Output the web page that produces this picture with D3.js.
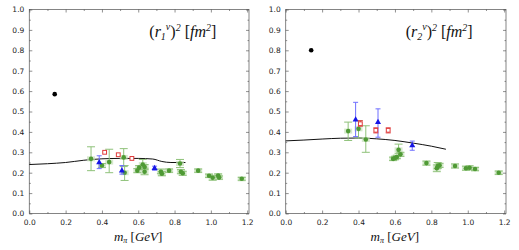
<!DOCTYPE html>
<html>
<head>
<meta charset="utf-8">
<script src="https://cdn.jsdelivr.net/npm/d3@7"></script>
<style>
  body { margin: 0; background: #fff; }
  .tick text { font-family: "DejaVu Sans", sans-serif; font-size: 7.5px; fill: #222; }
  .lbl { font-family: "Liberation Serif", "DejaVu Serif", serif; font-style: italic; fill: #111; }
</style>
</head>
<body>
<svg id="chart" width="519" height="250"></svg>
<script>
// ---- data: [m_pi, value, errLow, errHigh] ----
const blackR1 = [[0.14, 0.585]]
const curveR1 = [[0, 0.24], [0.1, 0.244], [0.2, 0.25], [0.3, 0.261], [0.4, 0.268], [0.5, 0.27], [0.6, 0.27], [0.68, 0.267], [0.73, 0.255], [0.78, 0.25], [0.86, 0.25]]
const greenR1 = [
  [0.34, 0.268, 0.21, 0.327], [0.40, 0.235, 0.225, 0.245], [0.44, 0.252, 0.2, 0.315],
  [0.52, 0.275, 0.23, 0.318], [0.525, 0.2, 0.162, 0.235],
  [0.595, 0.21, 0.2, 0.22], [0.605, 0.225, 0.215, 0.235], [0.625, 0.24, 0.228, 0.265],
  [0.635, 0.228, 0.215, 0.24], [0.635, 0.205, 0.19, 0.222],
  [0.725, 0.205, 0.195, 0.218], [0.73, 0.195, 0.185, 0.205], [0.77, 0.21, 0.202, 0.218],
  [0.83, 0.245, 0.225, 0.265], [0.835, 0.205, 0.195, 0.215], [0.845, 0.197, 0.187, 0.207],
  [0.93, 0.21, 0.202, 0.218], [0.99, 0.185, 0.177, 0.193], [1.01, 0.175, 0.163, 0.187],
  [1.04, 0.186, 0.178, 0.194], [1.045, 0.176, 0.168, 0.184], [1.17, 0.17, 0.163, 0.177]
]
const blueR1 = [[0.385, 0.25, 0.22, 0.283], [0.51, 0.21, 0.193, 0.235], [0.69, 0.222, 0.212, 0.232]]
const redR1 = [[0.415, 0.3], [0.49, 0.288], [0.565, 0.27]]

const blackR2 = [[0.14, 0.8]]
const curveR2 = [[0, 0.356], [0.1, 0.36], [0.2, 0.365], [0.3, 0.369], [0.4, 0.37], [0.5, 0.366], [0.6, 0.358], [0.7, 0.345], [0.8, 0.33], [0.88, 0.315]]
const greenR2 = [
  [0.343, 0.404, 0.358, 0.448], [0.40, 0.415, 0.37, 0.455], [0.44, 0.363, 0.30, 0.43],
  [0.59, 0.268, 0.26, 0.276], [0.60, 0.272, 0.264, 0.28], [0.61, 0.277, 0.269, 0.285],
  [0.62, 0.312, 0.295, 0.34], [0.63, 0.29, 0.28, 0.3],
  [0.773, 0.247, 0.237, 0.257], [0.83, 0.222, 0.205, 0.238], [0.835, 0.232, 0.22, 0.25],
  [0.845, 0.236, 0.226, 0.246], [0.93, 0.233, 0.223, 0.243], [0.99, 0.222, 0.212, 0.232],
  [1.01, 0.224, 0.214, 0.234], [1.04, 0.218, 0.21, 0.226], [1.17, 0.2, 0.192, 0.208]
]
const blueR2 = [[0.384, 0.46, 0.377, 0.545], [0.507, 0.447, 0.374, 0.513], [0.695, 0.333, 0.31, 0.355]]
const redR2 = [[0.41, 0.44, 0.428, 0.455], [0.495, 0.408, 0.395, 0.42], [0.563, 0.408, 0.395, 0.42]]

const xTicks = [0, 0.2, 0.4, 0.6, 0.8, 1.0, 1.2]
const yTicks = [0, 0.1, 0.2, 0.3, 0.4, 0.5, 0.6, 0.7, 0.8, 0.9, 1.0]

const svg = d3.select("#chart")

function panel(opts) {
  const x = d3.scaleLinear().domain([0, 1.21]).range([opts.left, opts.right])
  const y = d3.scaleLinear().domain([0, 1]).range([213.5, 9.5])
  const g = svg.append("g")

  // frame
  g.append("rect")
    .attr("x", opts.left).attr("y", 9.5)
    .attr("width", opts.right - opts.left).attr("height", 204)
    .attr("fill", "none").attr("stroke", "#666").attr("stroke-width", 0.8)

  // axes with inward ticks
  const fmt = d3.format(".1f")
  g.append("g").attr("transform", `translate(0,213.5)`)
    .call(d3.axisBottom(x).tickValues(xTicks).tickFormat(fmt).tickSize(-3).tickPadding(6))
  g.append("g").attr("transform", `translate(${opts.left},0)`)
    .call(d3.axisLeft(y).tickValues(yTicks).tickFormat(fmt).tickSize(-3).tickPadding(5))
  g.append("g").attr("transform", `translate(0,9.5)`)
    .call(d3.axisTop(x).tickValues(xTicks).tickFormat("").tickSize(-3))
  g.append("g").attr("transform", `translate(${opts.right},0)`)
    .call(d3.axisRight(y).tickValues(yTicks).tickFormat("").tickSize(-3))
  // minor ticks
  const minorX = d3.range(0.1, 1.2, 0.2)
  const minorY = d3.range(0.05, 1, 0.1)
  ;[[d3.axisBottom, 213.5], [d3.axisTop, 9.5]].forEach(([ax, ty]) => {
    g.append("g").attr("transform", `translate(0,${ty})`)
      .call(ax(x).tickValues(minorX).tickFormat("").tickSize(-1.5))
  })
  ;[[d3.axisLeft, opts.left], [d3.axisRight, opts.right]].forEach(([ax, tx]) => {
    g.append("g").attr("transform", `translate(${tx},0)`)
      .call(ax(y).tickValues(minorY).tickFormat("").tickSize(-1.5))
  })
  g.selectAll(".domain").remove()
  g.selectAll(".tick line").attr("stroke", "#444").attr("stroke-width", 0.6)

  // curve
  g.append("path")
    .datum(opts.curve)
    .attr("fill", "none").attr("stroke", "#111").attr("stroke-width", 1)
    .attr("d", d3.line().x(d => x(d[0])).y(d => y(d[1])).curve(d3.curveMonotoneX))

  function errBars(data, color, cap) {
    data.forEach(d => {
      if (d.length < 4) return
      g.append("line")
        .attr("x1", x(d[0])).attr("x2", x(d[0]))
        .attr("y1", y(d[2])).attr("y2", y(d[3]))
        .attr("stroke", color).attr("stroke-width", 1)
      ;[d[2], d[3]].forEach(v => {
        g.append("line")
          .attr("x1", x(d[0]) - cap).attr("x2", x(d[0]) + cap)
          .attr("y1", y(v)).attr("y2", y(v))
          .attr("stroke", color).attr("stroke-width", 1)
      })
    })
  }

  // green lattice points, shaded horizontal band behind
  g.selectAll(".gband").data(opts.green).enter().append("rect")
    .attr("x", d => x(d[0]) - 4).attr("y", d => y(d[1]) - 2.5)
    .attr("width", 8).attr("height", 5)
    .attr("fill", "#c5dfb8").attr("opacity", 0.7)
  errBars(opts.green, "#8fc27a", 4)
  g.selectAll(".gpt").data(opts.green).enter().append("circle")
    .attr("cx", d => x(d[0])).attr("cy", d => y(d[1])).attr("r", 2.3)
    .attr("fill", "#4f9a35")

  // blue triangles
  errBars(opts.blue, "#6f6fff", 2.5)
  g.selectAll(".bpt").data(opts.blue).enter().append("path")
    .attr("transform", d => `translate(${x(d[0])},${y(d[1])})`)
    .attr("d", d3.symbol(d3.symbolTriangle, 16)())
    .attr("fill", "#1515e6")

  // red open squares
  errBars(opts.red, "#e04848", 2.5)
  g.selectAll(".rpt").data(opts.red).enter().append("rect")
    .attr("x", d => x(d[0]) - 1.9).attr("y", d => y(d[1]) - 1.9)
    .attr("width", 3.8).attr("height", 3.8)
    .attr("fill", "#fff").attr("stroke", "#e03a3a").attr("stroke-width", 1)

  // black physical point
  g.selectAll(".kpt").data(opts.black).enter().append("circle")
    .attr("cx", d => x(d[0])).attr("cy", d => y(d[1])).attr("r", 2.3)
    .attr("fill", "#000")

  // title
  const t = g.append("text").attr("class", "lbl")
    .attr("x", opts.left + 120).attr("y", 37).attr("font-size", 16)
  t.append("tspan").attr("font-style", "normal").text("(")
  t.append("tspan").text("r")
  t.append("tspan").attr("font-size", 10).attr("dy", 3).text(opts.sub)
  t.append("tspan").attr("font-size", 10).attr("dy", -10).text("v")
  t.append("tspan").attr("font-style", "normal").attr("dy", 7).text(")")
  t.append("tspan").attr("font-size", 10).attr("dy", -6).text("2")
  t.append("tspan").attr("font-style", "normal").attr("dy", 6).text(" [")
  t.append("tspan").text("fm")
  t.append("tspan").attr("font-size", 10).attr("dy", -6).text("2")
  t.append("tspan").attr("font-style", "normal").attr("dy", 6).text("]")

  // x label
  const xl = g.append("text").attr("class", "lbl")
    .attr("x", (opts.left + opts.right) / 2 - 1).attr("y", 241)
    .attr("text-anchor", "middle").attr("font-size", 13)
  xl.append("tspan").text("m")
  xl.append("tspan").attr("font-size", 8).attr("dy", 2).text("π")
  xl.append("tspan").attr("font-style", "normal").attr("dy", -2).text(" [")
  xl.append("tspan").text("GeV")
  xl.append("tspan").attr("font-style", "normal").text("]")
}

panel({ left: 29.3, right: 249, curve: curveR1, green: greenR1, blue: blueR1, red: redR1, black: blackR1, sub: "1" })
panel({ left: 285.7, right: 506, curve: curveR2, green: greenR2, blue: blueR2, red: redR2, black: blackR2, sub: "2" })
</script>
</body>
</html>
